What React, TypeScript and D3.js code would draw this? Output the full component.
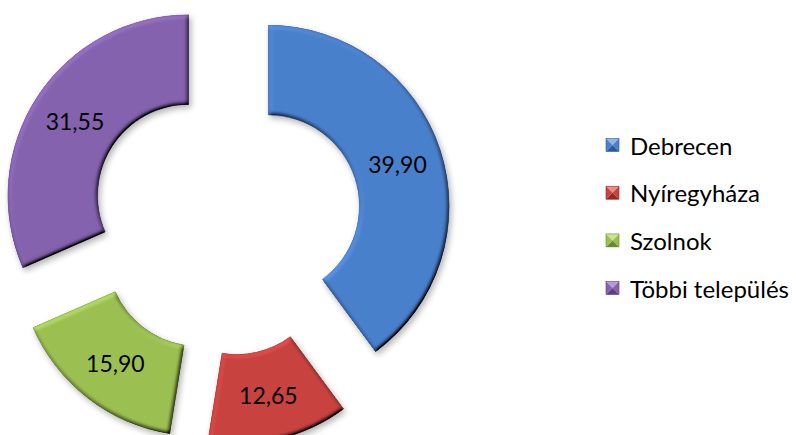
import React from "react";
import * as d3 from "d3";

const categories = ["Debrecen", "Nyíregyháza", "Szolnok", "Többi település"];
const values = [39.9, 12.65, 15.9, 31.55];
const labels = ["39,90", "12,65", "15,90", "31,55"];
const colors = ["#4a80cc", "#c8423f", "#9bc052", "#8462ae"];
const darkColors = ["#2c5a96", "#8e2a28", "#6a8a32", "#5a407e"];
const lightColors = ["#8fb6ea", "#ea8a86", "#cbe48e", "#b79ad9"];

const W = 796;
const H = 435;
const cx = 226;
const cy = 220;
const outerR = 181;
const innerR = 91;
const explode = 44.5;

export default function App() {
  const pie = d3.pie<number>().sort(null).startAngle(0).endAngle(2 * Math.PI);
  const arcs = pie(values);
  const arc = d3.arc<d3.PieArcDatum<number>>().innerRadius(innerR).outerRadius(outerR);

  const legendX = 606;
  const legendY0 = 145;
  const legendStep = 47.7;
  const m = 13;

  return (
    <svg width={W} height={H} style={{ position: "absolute", left: 0, top: 0 }}>
      <defs>
        <filter id="bevel" x="-10%" y="-10%" width="125%" height="125%">
          <feGaussianBlur in="SourceAlpha" stdDeviation="3" result="shBlur" />
          <feOffset in="shBlur" dx="2" dy="3" result="shOff" />
          <feComponentTransfer in="shOff" result="shadow">
            <feFuncA type="linear" slope="0.3" />
          </feComponentTransfer>
          <feGaussianBlur in="SourceAlpha" stdDeviation="2.2" result="blur" />
          <feDiffuseLighting in="blur" surfaceScale="4" diffuseConstant="1" lightingColor="#ffffff" result="diff">
            <feDistantLight azimuth="235" elevation="50" />
          </feDiffuseLighting>
          <feComposite in="SourceGraphic" in2="diff" operator="arithmetic" k1="1.305" k2="0" k3="0" k4="0" result="shaded" />
          <feComposite in="shaded" in2="SourceAlpha" operator="in" result="lit" />
          <feMerge>
            <feMergeNode in="shadow" />
            <feMergeNode in="lit" />
          </feMerge>
        </filter>
      </defs>
      {arcs.map((a, i) => {
        const mid = (a.startAngle + a.endAngle) / 2;
        const dx = explode * Math.sin(mid);
        const dy = -explode * Math.cos(mid);
        const [lx, ly] = arc.centroid(a);
        return (
          <g key={categories[i]} transform={`translate(${cx + dx},${cy + dy})`}>
            <path d={arc(a) || ""} fill={colors[i]} stroke={darkColors[i]} strokeWidth={0.5} filter="url(#bevel)" />
            <text
              x={lx}
              y={ly}
              textAnchor="middle"
              dominantBaseline="central"
              fontFamily="Lato, 'Open Sans', sans-serif"
              fontSize={23}
              fill="#000"
            >
              {labels[i]}
            </text>
          </g>
        );
      })}
      {categories.map((c, i) => {
        const y = legendY0 + i * legendStep;
        const x0 = legendX;
        const y0 = y - m / 2;
        const x1 = x0 + m;
        const y1 = y0 + m;
        const xm = x0 + m / 2;
        const ym = y0 + m / 2;
        return (
          <g key={c}>
            <polygon points={`${x0},${y0} ${x1},${y0} ${xm},${ym}`} fill={lightColors[i]} />
            <polygon points={`${x1},${y0} ${x1},${y1} ${xm},${ym}`} fill={colors[i]} />
            <polygon points={`${x0},${y1} ${x1},${y1} ${xm},${ym}`} fill={darkColors[i]} />
            <polygon points={`${x0},${y0} ${x0},${y1} ${xm},${ym}`} fill={colors[i]} />
            <rect x={x0} y={y0} width={m} height={m} fill="none" stroke={darkColors[i]} strokeWidth={0.6} />
            <text
              x={630}
              y={y}
              dominantBaseline="central"
              fontFamily="Lato, 'Open Sans', sans-serif"
              fontSize={24}
              fill="#000"
            >
              {c}
            </text>
          </g>
        );
      })}
    </svg>
  );
}
